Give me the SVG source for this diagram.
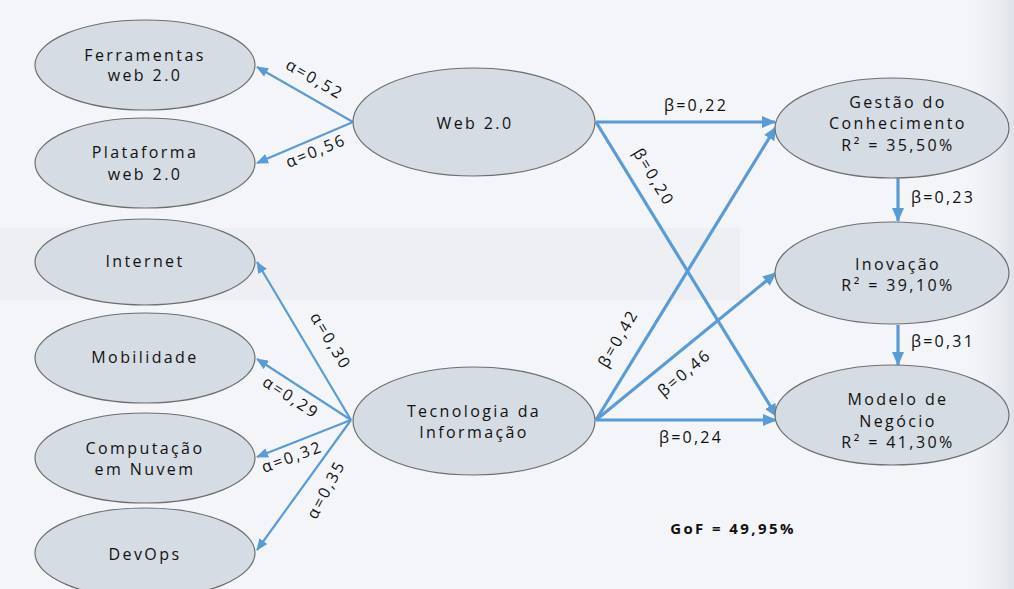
<svg xmlns="http://www.w3.org/2000/svg" width="1014" height="589" viewBox="0 0 1014 589">
<defs>
<style>
.n{fill:#d6dce4;stroke:#6e6e6e;stroke-width:1.2}
.t{font-family:"Open Sans","Liberation Sans",sans-serif;font-size:16px;fill:#111;text-anchor:middle;letter-spacing:2.4px}
.l{font-family:"Open Sans","Liberation Sans",sans-serif;font-size:16px;fill:#111;text-anchor:middle;letter-spacing:2.2px}
.a{stroke:#5b9bd5;stroke-width:2.2;fill:none;marker-end:url(#ha)}
.b{stroke:#5b9bd5;stroke-width:3.2;fill:none;marker-end:url(#hb)}
</style>
<marker id="ha" markerUnits="userSpaceOnUse" viewBox="0 0 12 10" refX="11" refY="5" markerWidth="12" markerHeight="10" orient="auto"><path d="M0,0 L12,5 L0,10 Z" fill="#5b9bd5"/></marker>
<marker id="hb" markerUnits="userSpaceOnUse" viewBox="0 0 14 12" refX="13" refY="6" markerWidth="14" markerHeight="12" orient="auto"><path d="M0,0 L14,6 L0,12 Z" fill="#5b9bd5"/></marker>
<linearGradient id="edge" x1="0" x2="1" y1="0" y2="0"><stop offset="0" stop-color="#f3f5f8" stop-opacity="0"/><stop offset="1" stop-color="#dfe2e8"/></linearGradient>
</defs>
<rect width="1014" height="589" fill="#f3f5f8"/>
<rect x="0" y="228" width="740" height="72" fill="#e6e8eb" opacity="0.45"/>
<rect x="960" y="0" width="54" height="589" fill="url(#edge)"/>

<g id="connectors">
<line class="a" x1="353" y1="122" x2="257" y2="67"/>
<line class="a" x1="353" y1="122" x2="257" y2="163"/>
<line class="a" x1="351" y1="420" x2="257" y2="262"/>
<line class="a" x1="351" y1="420" x2="257" y2="359"/>
<line class="a" x1="351" y1="420" x2="257" y2="457"/>
<line class="a" x1="351" y1="420" x2="257" y2="550"/>
<line class="b" x1="596" y1="122" x2="775" y2="122"/>
<line class="b" x1="596" y1="122" x2="777" y2="417"/>
<line class="b" x1="596" y1="420" x2="776" y2="127"/>
<line class="b" x1="596" y1="420" x2="776" y2="273"/>
<line class="b" x1="596" y1="420" x2="776" y2="420"/>
<line class="b" x1="898" y1="178" x2="898" y2="221"/>
<line class="b" x1="898" y1="325" x2="898" y2="365"/>
<text class="l" transform="translate(312,84) rotate(30)">α=0,52</text>
<text class="l" transform="translate(318,156) rotate(-22)">α=0,56</text>
<text class="l" transform="translate(326,344) rotate(59)">α=0,30</text>
<text class="l" transform="translate(288,402) rotate(33)">α=0,29</text>
<text class="l" transform="translate(294,462) rotate(-20)">α=0,32</text>
<text class="l" transform="translate(331,492) rotate(-62)">α=0,35</text>
<text class="l" x="696" y="111">β=0,22</text>
<text class="l" transform="translate(649,180) rotate(59)">β=0,20</text>
<text class="l" transform="translate(623,341) rotate(-60)">β=0,42</text>
<text class="l" transform="translate(688,377) rotate(-40)">β=0,46</text>
<text class="l" x="691" y="443">β=0,24</text>
<text class="l" x="943" y="203">β=0,23</text>
<text class="l" x="943" y="347">β=0,31</text>
</g>

<g id="ferramentas"><ellipse class="n" cx="145" cy="65" rx="110" ry="45"/><text class="t" x="145" y="61">Ferramentas</text><text class="t" x="145" y="81">web 2.0</text></g>
<g id="plataforma"><ellipse class="n" cx="145" cy="163" rx="110" ry="45"/><text class="t" x="145" y="158">Plataforma</text><text class="t" x="145" y="180">web 2.0</text></g>
<g id="internet"><ellipse class="n" cx="145" cy="262" rx="110" ry="43"/><text class="t" x="145" y="267">Internet</text></g>
<g id="mobilidade"><ellipse class="n" cx="145" cy="358" rx="110" ry="45"/><text class="t" x="145" y="363">Mobilidade</text></g>
<g id="computacao"><ellipse class="n" cx="145" cy="458" rx="110" ry="45"/><text class="t" x="145" y="454">Computação</text><text class="t" x="145" y="475">em Nuvem</text></g>
<g id="devops"><ellipse class="n" cx="145" cy="553" rx="110" ry="45"/><text class="t" x="145" y="560">DevOps</text></g>
<g id="web20"><ellipse class="n" cx="474" cy="122" rx="121" ry="54"/><text class="t" x="475" y="129">Web 2.0</text></g>
<g id="ti"><ellipse class="n" cx="474" cy="421" rx="121" ry="54"/><text class="t" x="474" y="417">Tecnologia da</text><text class="t" x="474" y="438">Informação</text></g>
<g id="gestao"><ellipse class="n" cx="892" cy="128" rx="117" ry="50"/><text class="t" x="898" y="108">Gestão do</text><text class="t" x="898" y="129">Conhecimento</text><text class="t" x="898" y="151">R² = 35,50%</text></g>
<g id="inovacao"><ellipse class="n" cx="892" cy="273" rx="117" ry="51"/><text class="t" x="898" y="270">Inovação</text><text class="t" x="898" y="291">R² = 39,10%</text></g>
<g id="modelo"><ellipse class="n" cx="892" cy="415" rx="117" ry="50"/><text class="t" x="898" y="405">Modelo de</text><text class="t" x="898" y="427">Negócio</text><text class="t" x="898" y="448">R² = 41,30%</text></g>
<g id="gof"><text x="733" y="534" font-family="Open Sans, Liberation Sans, sans-serif" font-size="15" font-weight="bold" fill="#111" text-anchor="middle" letter-spacing="2.4">GoF = 49,95%</text></g>
</svg>
